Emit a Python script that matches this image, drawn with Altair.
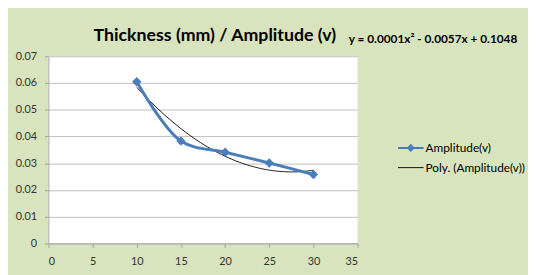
import altair as alt
import pandas as pd

thickness = [10, 15, 20, 25, 30]
amplitude = [0.0605, 0.0383, 0.0341, 0.0301, 0.0258]
series_names = ["Amplitude(v)", "Poly. (Amplitude(v))"]
title_text = "Thickness (mm) / Amplitude (v)"
equation_text = "y = 0.0001x\u00b2 - 0.0057x + 0.1048"

df = pd.DataFrame({"x": thickness, "y": amplitude, "s": series_names[0]})

FONT = "Lato"
BG = "#D7E4BD"
BLUE = "#4A7EBB"

color_scale = alt.Scale(domain=series_names, range=[BLUE, "#1a1a1a"])
shape_scale = alt.Scale(
    domain=series_names,
    range=["M-1,-0.08L1,-0.08L1,0.08L-1,0.08Z M0,-0.32L0.32,0L0,0.32L-0.32,0Z",
           "M-1,-0.04L1,-0.04L1,0.04L-1,0.04Z"],
)

x_enc = alt.X("x:Q", scale=alt.Scale(domain=[0, 35], nice=False),
              axis=alt.Axis(values=[0, 5, 10, 15, 20, 25, 30, 35], grid=False,
                            title=None, tickSize=4, labelPadding=8))
y_enc = alt.Y("y:Q", scale=alt.Scale(domain=[0, 0.07], nice=False),
              axis=alt.Axis(values=[0, 0.01, 0.02, 0.03, 0.04, 0.05, 0.06, 0.07],
                            title=None, tickSize=4, labelPadding=8, labelOverlap=False,
                            labelExpr="datum.value == 0 ? '0' : format(datum.value, '.2f')"))

legend = alt.Legend(title=None, orient="none", legendX=355, legendY=80,
                    symbolSize=676, symbolStrokeWidth=0,
                    labelFont=FONT, labelFontSize=12, labelColor="#000000",
                    rowPadding=1, labelOffset=2)

base = alt.Chart(df)

trend = base.transform_regression(
    "x", "y", method="poly", order=2, extent=[10, 30]
).transform_calculate(s="'" + series_names[1] + "'").mark_line(
    strokeWidth=1, interpolate="monotone"
).encode(
    x=x_enc, y=y_enc, color=alt.Color("s:N", scale=color_scale, legend=None)
)

main_line = base.mark_line(interpolate="catmull-rom", strokeWidth=3).encode(
    x=x_enc, y=y_enc,
    color=alt.Color("s:N", scale=color_scale, legend=None),
)

points = base.mark_point(shape="diamond", filled=True, size=90, opacity=1).encode(
    x=x_enc, y=y_enc, color=alt.Color("s:N", scale=color_scale, legend=None)
)

legend_layer = base.transform_filter("false").mark_point(filled=True, opacity=1).encode(
    x=x_enc, y=y_enc,
    color=alt.Color("s:N", scale=color_scale, legend=legend),
    shape=alt.Shape("s:N", scale=shape_scale, legend=legend),
)

title_mark = alt.Chart(pd.DataFrame({"t": [title_text]})).mark_text(
    font=FONT, fontSize=18, fontWeight="bold", color="#000000",
    align="center", baseline="middle"
).encode(x=alt.value(169), y=alt.value(-21), text="t:N")

eq_mark = alt.Chart(pd.DataFrame({"t": [equation_text]})).mark_text(
    font=FONT, fontSize=12, fontWeight="bold", color="#000000",
    align="left", baseline="middle"
).encode(x=alt.value(305), y=alt.value(-18), text="t:N")

chart = alt.layer(trend, main_line, points, legend_layer, title_mark, eq_mark).resolve_scale(
    color="independent", shape="independent"
).properties(
    width=314, height=190,
    autosize=alt.AutoSizeParams(type="none"),
    padding={"left": 41, "top": 47, "right": 173, "bottom": 30},
    background=BG,
).configure_view(
    fill="#FFFFFF", stroke=None
).configure_axis(
    labelFont=FONT, labelFontSize=11, labelColor="#333333",
    domainColor="#A6A6A6", tickColor="#A6A6A6", gridColor="#BFBFBF",
    gridWidth=1,
)

chart.save("out.html", embed_options={"renderer": "svg", "actions": False})
